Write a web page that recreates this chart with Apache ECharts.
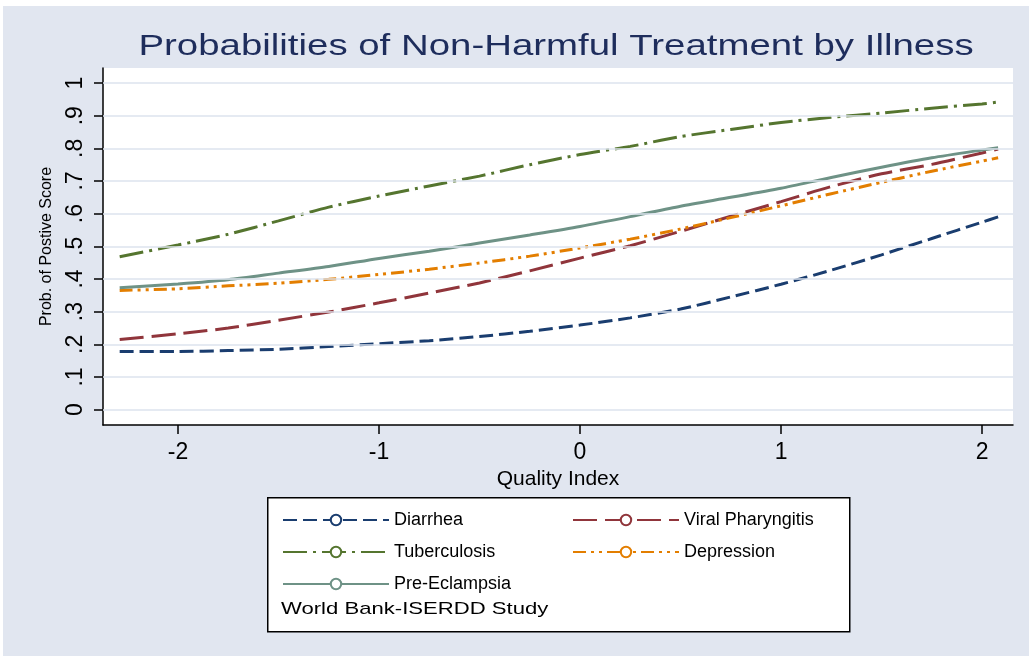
<!DOCTYPE html>
<html>
<head>
<meta charset="utf-8">
<script src="https://cdn.jsdelivr.net/npm/echarts@6/dist/echarts.min.js"></script>
<style>
html,body{margin:0;padding:0;background:#ffffff;}
#chart{width:1029px;height:656px;}
</style>
</head>
<body>
<div id="chart"></div>
<script>
// ---- data ----
const xValues = [-2.29, -2.0, -1.75, -1.5, -1.25, -1.0, -0.75, -0.5, -0.25, 0, 0.25, 0.5, 0.75, 1.0, 1.25, 1.5, 1.75, 2.0, 2.08];
const diarrhea         = [0.178, 0.178, 0.181, 0.185, 0.193, 0.202, 0.211, 0.224, 0.240, 0.259, 0.281, 0.308, 0.345, 0.384, 0.427, 0.474, 0.524, 0.574, 0.590];
const viralPharyngitis = [0.215, 0.232, 0.250, 0.274, 0.299, 0.327, 0.357, 0.388, 0.425, 0.464, 0.502, 0.546, 0.592, 0.637, 0.683, 0.722, 0.751, 0.786, 0.798];
const tuberculosis     = [0.468, 0.504, 0.537, 0.578, 0.620, 0.654, 0.685, 0.715, 0.750, 0.781, 0.806, 0.836, 0.858, 0.879, 0.895, 0.908, 0.923, 0.936, 0.942];
const depression       = [0.365, 0.370, 0.379, 0.387, 0.399, 0.414, 0.430, 0.449, 0.470, 0.495, 0.522, 0.553, 0.588, 0.624, 0.661, 0.696, 0.730, 0.761, 0.771];
const preEclampsia     = [0.373, 0.385, 0.398, 0.418, 0.438, 0.463, 0.485, 0.510, 0.535, 0.561, 0.591, 0.623, 0.650, 0.678, 0.711, 0.742, 0.771, 0.795, 0.802];
const seriesNames = ['Diarrhea', 'Viral Pharyngitis', 'Tuberculosis', 'Depression', 'Pre-Eclampsia'];
const xTicks = [-2, -1, 0, 1, 2];
const yTicks = [0, 0.1, 0.2, 0.3, 0.4, 0.5, 0.6, 0.7, 0.8, 0.9, 1];
const titleText = 'Probabilities of Non-Harmful Treatment by Illness';
const xTitle = 'Quality Index';
const yTitle = 'Prob. of Postive Score';
const noteText = 'World Bank-ISERDD Study';

// ---- styling ----
const BG = '#E1E6F0';
const GRIDC = '#DDE3EE';
const FONT = 'Liberation Sans, Arial, sans-serif';
const colors = ['#1A3D6F', '#90353B', '#55752F', '#E37E00', '#6E9286'];
const dashes = [[14, 6], [24, 8], [24, 6, 3, 6], [13, 5, 3, 5, 3, 5], 'solid'];
const allData = [diarrhea, viralPharyngitis, tuberculosis, depression, preEclampsia];

function fmtY(v) {
  if (Math.abs(v) < 1e-9) return '0';
  if (Math.abs(v - 1) < 1e-9) return '1';
  return '.' + Math.round(v * 10);
}

const chart = echarts.init(document.getElementById('chart'), null, {renderer: 'canvas'});

const series = allData.map((arr, i) => ({
  name: seriesNames[i],
  type: 'line',
  data: xValues.map((x, j) => [x, arr[j]]),
  showSymbol: false,
  symbol: 'emptyCircle',
  symbolSize: 12,
  smooth: 0.25,
  color: colors[i],
  itemStyle: {color: colors[i], borderColor: colors[i], borderWidth: 2},
  lineStyle: {color: colors[i], width: 3, type: dashes[i]},
  z: 3,
  silent: true
}));

// gridlines at the y tick values
series.push({
  name: '_grid',
  type: 'line',
  data: [],
  silent: true,
  markLine: {
    symbol: 'none',
    silent: true,
    label: {show: false},
    lineStyle: {color: GRIDC, width: 1.5, type: 'solid'},
    data: yTicks.map(v => ({yAxis: v}))
  },
  z: 1
});

chart.setOption({
  backgroundColor: BG,
  animation: false,
  grid: {
    left: 103, right: 16, top: 68, bottom: 231,
    show: true, backgroundColor: '#ffffff', borderWidth: 0
  },
  xAxis: {
    type: 'value',
    min: -2.373, max: 2.154,
    name: xTitle,
    nameLocation: 'middle',
    nameGap: 36,
    nameTextStyle: {fontFamily: FONT, fontSize: 21, color: '#000'},
    axisLine: {show: true, onZero: false, lineStyle: {color: '#000', width: 1.5}},
    axisTick: {show: true, length: 9, customValues: xTicks, lineStyle: {color: '#000', width: 1.5}},
    axisLabel: {show: true, customValues: xTicks, margin: 16, fontFamily: FONT, fontSize: 23, color: '#000',
      formatter: v => String(v)},
    splitLine: {show: false}
  },
  yAxis: {
    type: 'value',
    min: -0.047, max: 1.046,
    name: yTitle,
    nameLocation: 'middle',
    nameGap: 48,
    nameRotate: 90,
    nameTextStyle: {fontFamily: FONT, fontSize: 16, color: '#000'},
    axisLine: {show: true, onZero: false, lineStyle: {color: '#000', width: 1.5}},
    axisTick: {show: true, length: 9, customValues: yTicks, lineStyle: {color: '#000', width: 1.5}},
    axisLabel: {show: true, customValues: yTicks, rotate: 90, margin: 16, fontFamily: FONT, fontSize: 23, color: '#000',
      formatter: fmtY},
    splitLine: {show: false}
  },
  legend: {
    data: seriesNames,
    left: 277,
    top: 506,
    width: 570,
    orient: 'horizontal',
    itemWidth: 106,
    itemHeight: 13,
    itemGap: 14,
    selectedMode: false,
    textStyle: {fontFamily: FONT, fontSize: 18, color: '#000', width: 164, lineHeight: 18}
  },
  graphic: [
    {type: 'rect', left: 0, top: 0, shape: {width: 1029, height: 6}, style: {fill: '#ffffff'}, silent: true},
    {type: 'rect', left: 0, top: 0, shape: {width: 3, height: 656}, style: {fill: '#ffffff'}, silent: true},
    {type: 'text', x: 556, y: 47, scaleX: 1.28, silent: true,
      style: {text: titleText, fontFamily: FONT, fontSize: 30, fill: '#1E2D5C', align: 'center', verticalAlign: 'middle'}},
    {type: 'rect', left: 267, top: 497, z: -1, shape: {x: 0, y: 0, width: 582, height: 134},
      style: {fill: '#ffffff', stroke: '#000000', lineWidth: 1.5}, silent: true},
    {type: 'text', x: 281, y: 609, scaleX: 1.3, silent: true,
      style: {text: noteText, fontFamily: FONT, fontSize: 17, fill: '#000', align: 'left', verticalAlign: 'middle'}}
  ],
  series: series
});
</script>
</body>
</html>
